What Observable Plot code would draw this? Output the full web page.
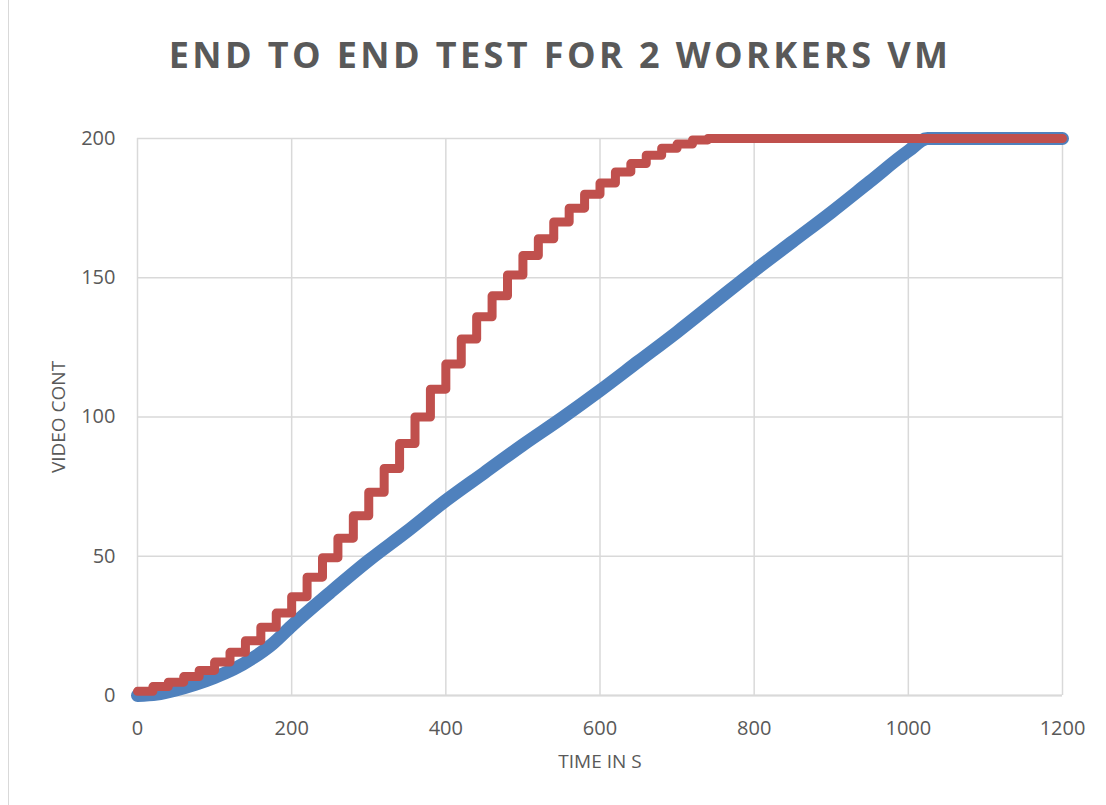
<!DOCTYPE html>
<html>
<head>
<meta charset="utf-8">
<script src="https://cdn.jsdelivr.net/npm/d3@7"></script>
<script src="https://cdn.jsdelivr.net/npm/@observablehq/plot@0.6"></script>
<style>
  html, body { margin: 0; padding: 0; background: #ffffff; }
  #wrap { position: relative; width: 1106px; height: 805px; overflow: hidden; background: #fff; }
  #frame { position: absolute; left: 8px; top: -2px; width: 0; height: 810px; border-left: 1.5px solid #d9d9d9; }
  #title { position: absolute; left: 0; top: 30px; width: 1120px; text-align: center;
           font-family: "Open Sans", sans-serif; font-weight: 700; font-size: 36px; line-height: 50px;
           letter-spacing: 3.4px; color: #595959; }
  #chart { position: absolute; left: 0; top: 100px; }
</style>
</head>
<body>
<div id="wrap">
  <div id="frame"></div>
  <div id="title">END TO END TEST FOR 2 WORKERS VM</div>
  <div id="chart"></div>
</div>
<script>
// ---- data ----
const xTicks = [0, 200, 400, 600, 800, 1000, 1200];
const yTicks = [0, 50, 100, 150, 200];

// Red series (stepped): time at which each level starts, and the level
const redTimes = [0, 20, 40, 60, 80, 100, 120, 140, 160, 180,
                  200, 220, 240, 260, 280, 300, 320, 340, 360, 380,
                  400, 420, 440, 460, 480, 500, 520, 540, 560, 580,
                  600, 620, 640, 660, 680, 700, 720, 740, 1200];
const redLevels = [1.5, 3.2, 4.8, 6.8, 9, 12, 15.5, 19.7, 24.5, 29.6,
                   35.5, 42.5, 49.5, 56.5, 64.5, 73, 81.5, 90.5, 100, 110,
                   119, 128, 136, 143.5, 151, 158, 164, 170, 175, 180,
                   184, 188, 191, 194, 196.5, 198, 199.5, 200, 200];

// Blue series (smooth)
const blueTimes = [0, 25, 50, 75, 100, 125, 150, 175, 200, 250, 300, 350, 400, 450,
                   500, 550, 600, 650, 700, 750, 800, 850, 900, 950, 1000, 1025, 1200];
const blueValues = [0, 0.5, 2, 4, 6.5, 9.5, 13.5, 18.5, 25, 37, 48.5, 59, 70, 80,
                    90, 99.5, 109.5, 120, 130.5, 141.5, 152.5, 163, 173.5, 184.5, 195.5, 200, 200];

const red = redTimes.map((t, i) => ({t, v: redLevels[i]}));
const blue = blueTimes.map((t, i) => ({t, v: blueValues[i]}));

const grid = "#d9d9d9";
const chart = Plot.plot({
  width: 1106,
  height: 705,
  marginTop: 38,
  marginBottom: 110,
  marginLeft: 137,
  marginRight: 44,
  style: { fontFamily: "Open Sans, sans-serif", fontSize: "20px", color: "#595959", background: "transparent", overflow: "visible" },
  x: { domain: [0, 1200], ticks: xTicks },
  y: { domain: [0, 200], ticks: yTicks },
  marks: [
    Plot.gridX(xTicks, { stroke: grid, strokeOpacity: 1, strokeWidth: 1.5 }),
    Plot.gridY(yTicks, { stroke: grid, strokeOpacity: 1, strokeWidth: 1.5 }),
    Plot.ruleY([0], { stroke: grid, strokeWidth: 2 }),
    Plot.axisX({ ticks: xTicks, tickSize: 0, tickPadding: 25, tickFormat: d => String(d), label: null, fontSize: 20 }),
    Plot.axisY({ ticks: yTicks, tickSize: 0, tickPadding: 22, tickFormat: d => String(d), label: null, fontSize: 20 }),
    Plot.line(blue, { x: "t", y: "v", stroke: "#4f81bd", strokeWidth: 13, curve: "monotone-x", strokeLinecap: "round", strokeLinejoin: "round" }),
    Plot.line(red, { x: "t", y: "v", stroke: "#c0504d", strokeWidth: 9, curve: "step-after", strokeLinecap: "round", strokeLinejoin: "round" }),
    Plot.text(["TIME IN S"], { frameAnchor: "bottom", dy: 72, fontSize: 19, fill: "#595959" }),
    Plot.text(["VIDEO CONT"], { frameAnchor: "left", dx: -79, rotate: -90, textAnchor: "middle", fontSize: 19, fill: "#595959" })
  ]
});
document.getElementById("chart").appendChild(chart);
</script>
</body>
</html>
